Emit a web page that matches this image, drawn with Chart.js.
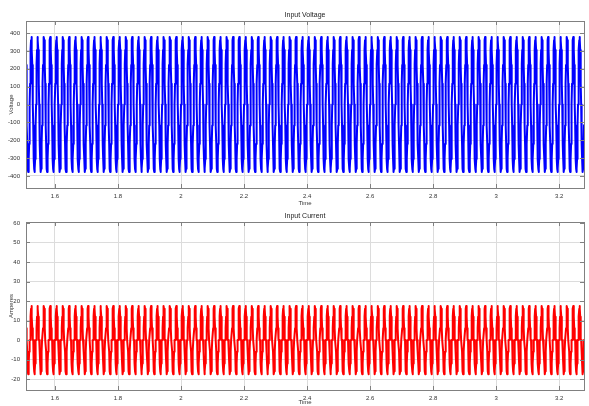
<!DOCTYPE html>
<html>
<head>
<meta charset="utf-8">
<script src="https://cdn.jsdelivr.net/npm/chart.js@4.4.1/dist/chart.umd.min.js"></script>
<style>
  html, body { margin: 0; padding: 0; background: #fff; }
  .wrap { position: relative; width: 589px; height: 406px; }
  canvas { position: absolute; left: 0; }
  #voltage { top: 0; }
  #current { top: 210px; }
</style>
</head>
<body>
<div class="wrap">
  <canvas id="voltage" width="589" height="210"></canvas>
  <canvas id="current" width="589" height="196"></canvas>
</div>
<script>
// time axis (s)
const timeTicks = [1.6, 1.8, 2, 2.2, 2.4, 2.6, 2.8, 3, 3.2];
const timeMin = 1.508;
const timeMax = 3.279;

// one mains cycle (50 Hz), repeated over the window
const cyclePeriod = 0.02;
const cycleStart = 1.50;
const voltageCycle = [0, 117, 222, 306, 360, 378, 360, 306, 222, 117,
  0, -117, -222, -306, -360, -378, -360, -306, -222, -117];
const currentCycle = [0, 0, 6, 12, 16, 17.5, 16, 12, 6, 0,
  0, 0, -6, -12, -16, -17.5, -16, -12, -6, 0];

const voltageTicks = [-400, -300, -200, -100, 0, 100, 200, 300, 400];
const currentTicks = [-20, -10, 0, 10, 20, 30, 40, 50, 60];

function tile(cycle) {
  const pts = [];
  const step = cyclePeriod / cycle.length;
  let t = cycleStart;
  let i = 0;
  while (t <= timeMax + step) {
    pts.push({ x: t, y: cycle[i % cycle.length] });
    i++;
    t = cycleStart + i * step;
  }
  return pts;
}

const font = { family: 'Liberation Sans, Arial, sans-serif', size: 6 };
const textColor = '#333';
const gridColor = '#dcdcdc';

// matlab-style box with inward tick marks
const boxPlugin = {
  id: 'box',
  afterDatasetsDraw(chart) {
    const { ctx, chartArea: a, scales } = chart;
    ctx.save();
    ctx.strokeStyle = '#808080';
    ctx.lineWidth = 1;
    ctx.beginPath();
    scales.x.ticks.forEach((t) => {
      const px = Math.round(scales.x.getPixelForValue(t.value)) + 0.5;
      ctx.moveTo(px, a.top); ctx.lineTo(px, a.top + 4);
      ctx.moveTo(px, a.bottom); ctx.lineTo(px, a.bottom - 4);
    });
    scales.y.ticks.forEach((t) => {
      const py = Math.round(scales.y.getPixelForValue(t.value)) + 0.5;
      ctx.moveTo(a.left, py); ctx.lineTo(a.left + 4, py);
      ctx.moveTo(a.right, py); ctx.lineTo(a.right - 4, py);
    });
    ctx.stroke();
    ctx.strokeRect(Math.round(a.left) + 0.5, Math.round(a.top) + 0.5,
      Math.round(a.right - a.left), Math.round(a.bottom - a.top));
    ctx.restore();
  },
};

function makeChart(id, cfg) {
  return new Chart(document.getElementById(id), {
    type: 'line',
    data: {
      datasets: [{
        data: tile(cfg.cycle),
        borderColor: cfg.color,
        borderWidth: 2,
        borderJoinStyle: 'round',
        borderCapStyle: 'round',
        pointRadius: 0,
        tension: 0,
        fill: false,
      }],
    },
    options: {
      responsive: false,
      animation: false,
      parsing: false,
      layout: { padding: { left: 0, right: 5, top: 0, bottom: 0 } },
      plugins: {
        legend: { display: false },
        tooltip: { enabled: false },
        title: {
          display: true,
          text: cfg.title,
          fullSize: false,
          color: '#222',
          font: { family: font.family, size: 7, weight: 'normal' },
          padding: cfg.titlePad,
        },
      },
      scales: {
        x: {
          type: 'linear',
          min: timeMin,
          max: timeMax,
          afterBuildTicks: (s) => { s.ticks = timeTicks.map((v) => ({ value: v })); },
          afterFit: (s) => { s.height = cfg.xHeight; },
          ticks: {
            color: textColor,
            font,
            padding: 5,
            maxRotation: 0,
            callback: (v) => String(Math.round(v * 10) / 10),
          },
          grid: { color: gridColor, drawTicks: false },
          border: { display: false },
          title: {
            display: true,
            text: 'Time',
            color: textColor,
            font,
            padding: { top: 0, bottom: cfg.timePad },
          },
        },
        y: {
          type: 'linear',
          min: cfg.yMin,
          max: cfg.yMax,
          afterBuildTicks: (s) => { s.ticks = cfg.yTicks.map((v) => ({ value: v })); },
          afterFit: (s) => { s.width = 26; },
          ticks: { color: textColor, font, padding: 6 },
          grid: { color: gridColor, drawTicks: false },
          border: { display: false },
          title: {
            display: true,
            text: cfg.yLabel,
            color: textColor,
            font,
            padding: { top: 8, bottom: 0 },
          },
        },
      },
    },
    plugins: [boxPlugin],
  });
}

makeChart('voltage', {
  title: 'Input Voltage',
  titlePad: { top: 10.6, bottom: 2 },
  cycle: voltageCycle,
  color: '#0000ff',
  yMin: -468,
  yMax: 468,
  yTicks: voltageTicks,
  yLabel: 'Voltage',
  xHeight: 22,
  timePad: 3.4,
});

makeChart('current', {
  title: 'Input Current',
  titlePad: { top: 1.8, bottom: 1.8 },
  cycle: currentCycle,
  color: '#ff0000',
  yMin: -25.6,
  yMax: 60.5,
  yTicks: currentTicks,
  yLabel: 'Amperes',
  xHeight: 16,
  timePad: 0,
});
</script>
</body>
</html>
